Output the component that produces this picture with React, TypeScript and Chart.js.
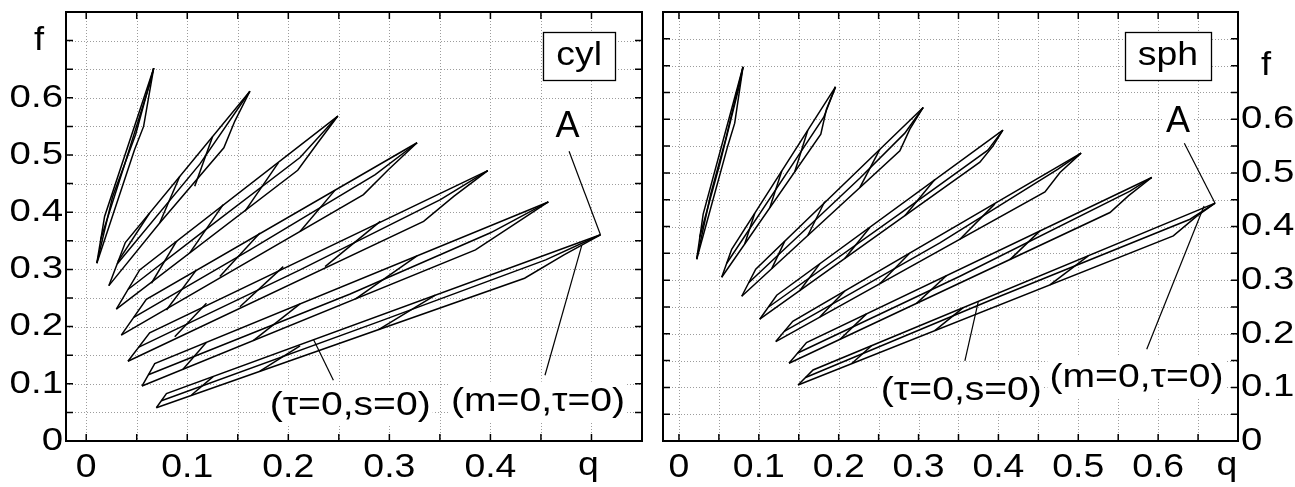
import React, { useEffect, useRef } from 'react';
import { Chart, registerables } from 'chart.js';

Chart.register(...registerables);

type P = [number, number];
type Poly = P[];

const FONT = '"Liberation Sans", Arial, Helvetica, sans-serif';

// ---------------- cyl panel (left) ----------------
const cylXTicks = [0, 0.1, 0.2, 0.3, 0.4];
const cylYTicks = [0, 0.1, 0.2, 0.3, 0.4, 0.5, 0.6];
const cylXGrid = [0, 0.05, 0.1, 0.15, 0.2, 0.25, 0.3, 0.35, 0.4, 0.45, 0.5];
const cylYGrid = [0.05, 0.1, 0.15, 0.2, 0.25, 0.3, 0.35, 0.4, 0.45, 0.5, 0.55, 0.6, 0.65, 0.7];

const cylBlade1: Poly[] = [
  [[0.0105, 0.3109], [0.0182, 0.3926], [0.0668, 0.6518]],
  [[0.0105, 0.3109], [0.0261, 0.4272], [0.0489, 0.536], [0.0668, 0.6518]],
  [[0.0105, 0.3109], [0.0479, 0.5096], [0.0568, 0.55], [0.0668, 0.6518]],
  [[0.0142, 0.3518], [0.038, 0.4833], [0.0628, 0.6237], [0.0668, 0.6518]],
];
const cylBlade2: Poly[] = [
  [[0.0224, 0.2716], [0.0387, 0.347], [0.162, 0.6114]],
  [[0.0224, 0.2716], [0.0727, 0.3811], [0.1362, 0.5126], [0.1471, 0.5593], [0.162, 0.6114]],
  [[0.0306, 0.3093], [0.1124, 0.484], [0.162, 0.6114]],
  [[0.0313, 0.3137], [0.0628, 0.3986]],
  [[0.0727, 0.3811], [0.0926, 0.4628]],
  [[0.1074, 0.4453], [0.125, 0.5319]],
];
const cylBlade3: Poly[] = [
  [[0.0298, 0.2307], [0.0529, 0.2991], [0.249, 0.5681]],
  [[0.0298, 0.2307], [0.2093, 0.4733], [0.2292, 0.5214], [0.249, 0.5681]],
  [[0.0413, 0.2649], [0.1124, 0.3616], [0.2116, 0.4956], [0.249, 0.5681]],
  [[0.0645, 0.2758], [0.0893, 0.3488]],
  [[0.1025, 0.3289], [0.1355, 0.4132]],
  [[0.157, 0.4014], [0.1901, 0.4863]],
];
const cylBlade4: Poly[] = [
  [[0.0347, 0.1851], [0.0595, 0.2477], [0.3274, 0.5214]],
  [[0.0347, 0.1851], [0.2744, 0.4307], [0.2992, 0.4746], [0.3274, 0.5214]],
  [[0.0471, 0.2163], [0.162, 0.3342], [0.286, 0.4658], [0.3274, 0.5214]],
  [[0.0794, 0.2289], [0.1091, 0.2991]],
  [[0.1322, 0.2874], [0.1719, 0.3635]],
  [[0.2116, 0.3663], [0.2463, 0.4386]],
];
const cylBlade5: Poly[] = [
  [[0.0413, 0.1395], [0.0628, 0.1891], [0.3974, 0.4728]],
  [[0.0413, 0.1395], [0.3339, 0.3839], [0.3637, 0.4277], [0.3974, 0.4728]],
  [[0.0521, 0.1642], [0.2116, 0.2991], [0.3505, 0.4219], [0.3974, 0.4728]],
  [[0.0876, 0.1821], [0.119, 0.2407]],
  [[0.1521, 0.2347], [0.195, 0.3049]],
  [[0.2364, 0.3049], [0.291, 0.3839]],
];
const cylBlade6: Poly[] = [
  [[0.0552, 0.0961], [0.0678, 0.1354], [0.4573, 0.4179]],
  [[0.0552, 0.0961], [0.3852, 0.3342], [0.4232, 0.3781], [0.4573, 0.4179]],
  [[0.0615, 0.1158], [0.2612, 0.257], [0.4001, 0.364], [0.4573, 0.4179]],
  [[0.0958, 0.1254], [0.119, 0.1725]],
  [[0.1653, 0.1754], [0.2116, 0.2396]],
  [[0.2662, 0.2482], [0.3274, 0.3237]],
];
const cylBlade7: Poly[] = [
  [[0.0694, 0.0582], [0.0794, 0.0828], [0.5089, 0.3605]],
  [[0.0694, 0.0582], [0.4338, 0.2846], [0.4728, 0.3254], [0.5089, 0.3605]],
  [[0.0744, 0.0705], [0.291, 0.2096], [0.4547, 0.3167], [0.5089, 0.3605]],
  [[0.1042, 0.0804], [0.1256, 0.1126]],
  [[0.1719, 0.1223], [0.2116, 0.1665]],
  [[0.2893, 0.1947], [0.3455, 0.2549]],
];
const cylLeaders: Poly[] = [
  [[0.4778, 0.5067], [0.5089, 0.3605]],
  [[0.4904, 0.3421], [0.454, 0.1149]],
  [[0.2248, 0.178], [0.2446, 0.1061]],
];
const cylNotes = [
  { text: '(τ=0,s=0)', x: 0.2612, y: 0.0623 },
  { text: '(m=0,τ=0)', x: 0.4471, y: 0.0681 },
];
const cylLetter = { text: 'A', x: 0.4762, y: 0.55 };
const cylTag = { text: 'cyl', x: 0.4878, y: 0.6728 };

// ---------------- sph panel (right) ----------------
const sphXTicks = [0, 0.1, 0.2, 0.3, 0.4, 0.5, 0.6];
const sphYTicks = [0, 0.1, 0.2, 0.3, 0.4, 0.5, 0.6];
const sphXGrid = [0, 0.05, 0.1, 0.15, 0.2, 0.25, 0.3, 0.35, 0.4, 0.45, 0.5, 0.55, 0.6, 0.65];
const sphYGrid = [0.05, 0.1, 0.15, 0.2, 0.25, 0.3, 0.35, 0.4, 0.45, 0.5, 0.55, 0.6, 0.65, 0.7, 0.75];

const sphBlade1: Poly[] = [
  [[0.0222, 0.339], [0.0303, 0.423], [0.0802, 0.6978]],
  [[0.0222, 0.339], [0.0397, 0.4601], [0.0585, 0.5629], [0.0802, 0.6978]],
  [[0.0222, 0.339], [0.061, 0.5498], [0.0698, 0.5927], [0.0802, 0.6978]],
  [[0.0259, 0.38], [0.051, 0.5162], [0.0761, 0.6655], [0.0802, 0.6978]],
];
const sphBlade2: Poly[] = [
  [[0.0535, 0.3054], [0.066, 0.3576], [0.196, 0.6604]],
  [[0.0535, 0.3054], [0.1776, 0.5722], [0.1847, 0.6188], [0.196, 0.6604]],
  [[0.0598, 0.3315], [0.1387, 0.5078], [0.1813, 0.6039], [0.196, 0.6604]],
  [[0.0823, 0.3674], [0.0949, 0.4248]],
  [[0.1137, 0.4347], [0.1287, 0.5035]],
  [[0.145, 0.5021], [0.1613, 0.5795]],
];
const sphBlade3: Poly[] = [
  [[0.0786, 0.2699], [0.0961, 0.3203], [0.3058, 0.622]],
  [[0.0786, 0.2699], [0.2766, 0.541], [0.2891, 0.5815], [0.3058, 0.622]],
  [[0.0873, 0.2951], [0.2264, 0.4901], [0.2828, 0.5741], [0.3058, 0.622]],
  [[0.1162, 0.3215], [0.1325, 0.3726]],
  [[0.1613, 0.3832], [0.1826, 0.4466]],
  [[0.2264, 0.4724], [0.2515, 0.544]],
];
const sphBlade4: Poly[] = [
  [[0.1011, 0.2271], [0.1224, 0.2718], [0.4056, 0.5797]],
  [[0.1011, 0.2271], [0.3768, 0.52], [0.3931, 0.5498], [0.4056, 0.5797]],
  [[0.1118, 0.2494], [0.2766, 0.4239], [0.3868, 0.5424], [0.4056, 0.5797]],
  [[0.1512, 0.2802], [0.1763, 0.3304]],
  [[0.2076, 0.3403], [0.239, 0.3981]],
  [[0.2829, 0.4201], [0.3204, 0.4875]],
];
const sphBlade5: Poly[] = [
  [[0.1212, 0.1854], [0.1425, 0.2233], [0.5035, 0.5368]],
  [[0.1212, 0.1854], [0.4583, 0.4646], [0.4771, 0.5007], [0.5035, 0.5368]],
  [[0.1318, 0.2043], [0.3267, 0.3694], [0.4746, 0.5069], [0.5035, 0.5368]],
  [[0.1763, 0.2312], [0.2076, 0.2799]],
  [[0.2515, 0.2933], [0.2891, 0.3506]],
  [[0.3518, 0.3763], [0.3956, 0.4422]],
];
const sphBlade6: Poly[] = [
  [[0.1378, 0.145], [0.1597, 0.1836], [0.592, 0.4914]],
  [[0.1378, 0.145], [0.5397, 0.4261], [0.5627, 0.4571], [0.592, 0.4914]],
  [[0.1487, 0.1642], [0.3518, 0.3073], [0.5648, 0.4659], [0.592, 0.4914]],
  [[0.2014, 0.1894], [0.2348, 0.2371]],
  [[0.2975, 0.2567], [0.3351, 0.3086]],
  [[0.4144, 0.3382], [0.452, 0.3918]],
];
const sphBlade7: Poly[] = [
  [[0.1491, 0.1045], [0.1679, 0.1325], [0.6713, 0.4435]],
  [[0.1491, 0.1045], [0.619, 0.3825], [0.6484, 0.4192], [0.6713, 0.4435]],
  [[0.1585, 0.1185], [0.4019, 0.27], [0.64, 0.4136], [0.6713, 0.4435]],
  [[0.216, 0.144], [0.2411, 0.1776]],
  [[0.3204, 0.2058], [0.3559, 0.2487]],
  [[0.4645, 0.291], [0.5125, 0.3453]],
];
const sphLeaders: Poly[] = [
  [[0.6328, 0.5554], [0.6713, 0.4435]],
  [[0.6575, 0.4384], [0.5857, 0.1711]],
  [[0.3747, 0.2593], [0.358, 0.1493]],
];
const sphNotes = [
  { text: '(τ=0,s=0)', x: 0.3536, y: 0.0933 },
  { text: '(m=0,τ=0)', x: 0.5729, y: 0.1188 },
];
const sphLetter = { text: 'A', x: 0.6249, y: 0.597 };
const sphTag = { text: 'sph', x: 0.6123, y: 0.7177 };

// ---------------- drawing ----------------
type Note = { text: string; x: number; y: number };
interface Spec {
  blades: Poly[][];
  xMin: number; xMax: number; yMax: number;
  xTicks: number[]; yTicks: number[]; xGrid: number[]; yGrid: number[];
  yPos: 'left' | 'right';
  leaders: Poly[]; notes: Note[]; letter: Note; tag: Note;
  qAt: number; fAt: number; qShift: number; fCenter: number;
  padLeft: number; padRight: number; yWidth: number;
}

const fmt = (v: number) => (Math.abs(v) < 1e-9 ? '0' : v.toFixed(1));

function drawText(
  ctx: CanvasRenderingContext2D, text: string, x: number, y: number,
  size: number, sx: number, align: CanvasTextAlign = 'center',
) {
  ctx.save();
  ctx.font = `${size}px ${FONT}`;
  ctx.textAlign = align;
  ctx.textBaseline = 'middle';
  ctx.fillStyle = '#000';
  ctx.translate(x, y);
  ctx.scale(sx, 1);
  ctx.fillText(text, 0, 0);
  ctx.restore();
}

function decoPlugin(spec: Spec) {
  return {
    id: 'deco',
    beforeDatasetsDraw(chart: any) {
      const { ctx, chartArea: a, scales } = chart;
      const xs = scales.x, ys = scales.y;
      ctx.save();
      ctx.strokeStyle = '#9c9c9c';
      ctx.lineWidth = 1;
      ctx.setLineDash([1, 2]);
      for (const v of spec.xGrid) {
        const px = Math.round(xs.getPixelForValue(v)) + 0.5;
        ctx.beginPath(); ctx.moveTo(px, a.top); ctx.lineTo(px, a.bottom); ctx.stroke();
      }
      for (const v of spec.yGrid) {
        const py = Math.round(ys.getPixelForValue(v)) + 0.5;
        ctx.beginPath(); ctx.moveTo(a.left, py); ctx.lineTo(a.right, py); ctx.stroke();
      }
      ctx.restore();
    },
    afterDatasetsDraw(chart: any) {
      const { ctx, chartArea: a, scales } = chart;
      const xs = scales.x, ys = scales.y;
      const X = (v: number) => xs.getPixelForValue(v);
      const Y = (v: number) => ys.getPixelForValue(v);
      ctx.save();
      // leaders
      ctx.strokeStyle = '#000';
      ctx.lineWidth = 1.2;
      for (const l of spec.leaders) {
        ctx.beginPath();
        l.forEach(([x, y], i) => (i ? ctx.lineTo(X(x), Y(y)) : ctx.moveTo(X(x), Y(y))));
        ctx.stroke();
      }
      // notes with white background
      const size = 34, sx = 1.15;
      for (const n of spec.notes) {
        ctx.font = `${size}px ${FONT}`;
        const w = ctx.measureText(n.text).width * sx;
        const cx = X(n.x), cy = Y(n.y);
        ctx.fillStyle = '#fff';
        ctx.fillRect(cx - w / 2 - 2, cy - size * 0.6, w + 4, size * 1.2);
        drawText(ctx, n.text, cx, cy, size, sx);
      }
      // letter A
      {
        const n = spec.letter;
        const cx = X(n.x), cy = Y(n.y);
        ctx.fillStyle = '#fff';
        ctx.fillRect(cx - 15, cy - 16, 30, 32);
        drawText(ctx, n.text, cx, cy + 1, 36, 1.0);
      }
      // framed tag
      {
        const t = spec.tag;
        ctx.font = `${size}px ${FONT}`;
        const w = ctx.measureText(t.text).width * 1.1;
        const cx = X(t.x), cy = Y(t.y);
        const bw = w + 26, bh = 48;
        ctx.fillStyle = '#fff';
        ctx.fillRect(cx - bw / 2, cy - bh / 2, bw, bh);
        ctx.strokeStyle = '#000';
        ctx.lineWidth = 1.3;
        ctx.strokeRect(Math.round(cx - bw / 2) + 0.5, Math.round(cy - bh / 2) + 0.5, Math.round(bw), Math.round(bh));
        drawText(ctx, t.text, cx, cy - 1, size, 1.1);
      }
      // inward ticks
      ctx.strokeStyle = '#000';
      ctx.lineWidth = 1.5;
      const tl = 7;
      for (const v of spec.xGrid) {
        const px = X(v);
        ctx.beginPath();
        ctx.moveTo(px, a.bottom); ctx.lineTo(px, a.bottom - tl);
        ctx.moveTo(px, a.top); ctx.lineTo(px, a.top + tl);
        ctx.stroke();
      }
      for (const v of spec.yGrid) {
        const py = Y(v);
        ctx.beginPath();
        ctx.moveTo(a.left, py); ctx.lineTo(a.left + tl, py);
        ctx.moveTo(a.right, py); ctx.lineTo(a.right - tl, py);
        ctx.stroke();
      }
      // frame
      ctx.lineWidth = 2;
      ctx.strokeRect(a.left, a.top, a.right - a.left, a.bottom - a.top);
      ctx.restore();

      // tick labels
      for (const v of spec.xTicks) {
        drawText(ctx, fmt(v), X(v), a.bottom + 27, 34, 1.1);
      }
      for (const v of spec.yTicks) {
        if (spec.yPos === 'left') drawText(ctx, fmt(v), a.left - 3, Y(v), 32, 1.2, 'right');
        else drawText(ctx, fmt(v), a.right + 3, Y(v), 32, 1.2, 'left');
      }
      // axis names f and q
      drawText(ctx, 'f', spec.fCenter, Y(spec.fAt), 33, 1.1);
      drawText(ctx, 'q', X(spec.qAt) + spec.qShift, a.bottom + 25, 34, 1.1);
    },
  };
}

function buildConfig(spec: Spec): any {
  const datasets: any[] = [];
  for (const blade of spec.blades) {
    for (const poly of blade) {
      datasets.push({
        data: poly.map(([x, y]) => ({ x, y })),
        showLine: true,
        borderColor: '#000',
        borderWidth: 1.5,
        pointRadius: 0,
        pointHoverRadius: 0,
        fill: false,
        tension: 0,
      });
    }
  }
  return {
    type: 'scatter',
    data: { datasets },
    options: {
      animation: false,
      responsive: false,
      devicePixelRatio: 1,
      events: [],
      layout: { padding: { left: spec.padLeft, right: spec.padRight, top: 12, bottom: 0 } },
      plugins: { legend: { display: false }, tooltip: { enabled: false } },
      scales: {
        x: {
          type: 'linear',
          min: spec.xMin,
          max: spec.xMax,
          grid: { display: false, drawTicks: false },
          border: { display: false },
          afterBuildTicks: (s: any) => { s.ticks = spec.xTicks.map((v) => ({ value: v })); },
          afterFit: (s: any) => { s.height = 46; s.paddingLeft = 0; s.paddingRight = 0; },
          ticks: { display: false },
        },
        y: {
          type: 'linear',
          position: spec.yPos,
          min: 0,
          max: spec.yMax,
          grid: { display: false, drawTicks: false },
          border: { display: false },
          afterBuildTicks: (s: any) => { s.ticks = spec.yTicks.map((v) => ({ value: v })); },
          afterFit: (s: any) => { s.width = spec.yWidth; s.paddingTop = 0; s.paddingBottom = 0; },
          ticks: { display: false },
        },
      },
    },
    plugins: [decoPlugin(spec)],
  };
}

const cylSpec: Spec = {
  blades: [cylBlade1, cylBlade2, cylBlade3, cylBlade4, cylBlade5, cylBlade6, cylBlade7],
  xMin: -0.02, xMax: 0.55, yMax: 0.75,
  xTicks: cylXTicks, yTicks: cylYTicks, xGrid: cylXGrid, yGrid: cylYGrid,
  yPos: 'left', leaders: cylLeaders, notes: cylNotes, letter: cylLetter, tag: cylTag,
  qAt: 0.5, fAt: 0.7, qShift: -3, fCenter: 39,
  padLeft: 0, padRight: 8, yWidth: 66,
};

const sphSpec: Spec = {
  blades: [sphBlade1, sphBlade2, sphBlade3, sphBlade4, sphBlade5, sphBlade6, sphBlade7],
  xMin: -0.02, xMax: 0.7, yMax: 0.8,
  xTicks: sphXTicks, yTicks: sphYTicks, xGrid: sphXGrid, yGrid: sphYGrid,
  yPos: 'right', leaders: sphLeaders, notes: sphNotes, letter: sphLetter, tag: sphTag,
  qAt: 0.7, fAt: 0.7, qShift: -11, fCenter: 616,
  padLeft: 13, padRight: 0, yWidth: 57,
};

function Panel({ spec, left, width }: { spec: Spec; left: number; width: number }) {
  const ref = useRef<HTMLCanvasElement>(null);
  useEffect(() => {
    const chart = new Chart(ref.current as HTMLCanvasElement, buildConfig(spec));
    return () => chart.destroy();
  }, [spec]);
  return (
    <canvas
      ref={ref}
      width={width}
      height={487}
      style={{ position: 'absolute', left, top: 0, width, height: 487, display: 'block' }}
    />
  );
}

export default function App() {
  return (
    <div style={{ position: 'absolute', left: 0, top: 0, width: 1295, height: 487, background: '#fff', overflow: 'hidden' }}>
      <Panel spec={cylSpec} left={0} width={650} />
      <Panel spec={sphSpec} left={650} width={645} />
    </div>
  );
}
